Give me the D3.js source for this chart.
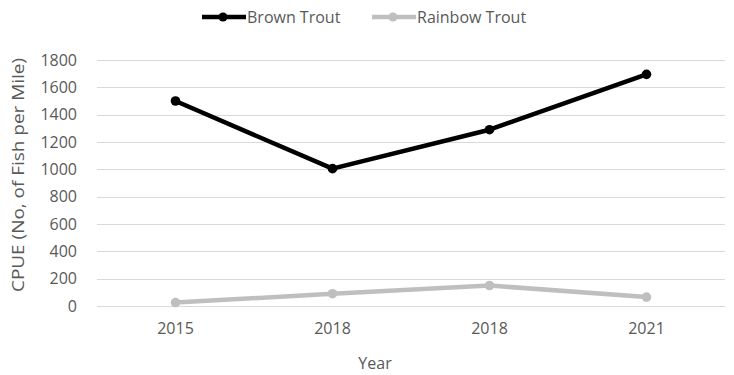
<!DOCTYPE html>
<html>
<head>
<meta charset="utf-8">
<script src="https://cdn.jsdelivr.net/npm/d3@7/dist/d3.min.js"></script>
<style>
  html, body { margin: 0; padding: 0; background: #fff; }
  svg { display: block; font-family: "Open Sans", "Liberation Sans", sans-serif; }
</style>
</head>
<body>
<svg id="chart" width="734" height="375"></svg>
<script>
// Survey years (two surveys in 2018) and catch per unit effort
const years = ["2015", "2018", "2018", "2021"];
const brownTrout = [1500, 1005, 1290, 1695];
const rainbowTrout = [25, 90, 150, 65];
const yTicks = [0, 200, 400, 600, 800, 1000, 1200, 1400, 1600, 1800];

const series = [
  { name: "Brown Trout", values: brownTrout, color: "#000000" },
  { name: "Rainbow Trout", values: rainbowTrout, color: "#bfbfbf" }
];

const svg = d3.select("#chart");
const margin = { left: 97, right: 9, top: 60, bottom: 69 };
const W = 734, H = 375;
const textColor = "#595959";

const x = d3.scaleBand()
  .domain(d3.range(years.length))
  .range([margin.left, W - margin.right]);
const y = d3.scaleLinear()
  .domain([0, 1800])
  .range([H - margin.bottom, margin.top]);

// Horizontal gridlines
svg.append("g")
  .selectAll("line")
  .data(yTicks)
  .join("line")
  .attr("x1", margin.left)
  .attr("x2", W - margin.right)
  .attr("y1", d => Math.round(y(d)) + 0.5)
  .attr("y2", d => Math.round(y(d)) + 0.5)
  .attr("stroke", "#d9d9d9")
  .attr("stroke-width", 1);

// Y axis labels
const yAxis = svg.append("g")
  .attr("transform", `translate(${margin.left - 20},0)`)
  .call(d3.axisLeft(y).tickValues(yTicks).tickFormat(d3.format("d")).tickSize(0).tickPadding(0));
yAxis.select(".domain").remove();
yAxis.selectAll("text")
  .attr("fill", textColor)
  .style("font-size", "16px")
  .style("font-family", "'Open Sans', sans-serif");

// X axis labels
const xAxis = svg.append("g")
  .attr("transform", `translate(0,${H - margin.bottom})`)
  .call(d3.axisBottom(x).tickFormat(i => years[i]).tickSize(0).tickPadding(17));
xAxis.select(".domain").remove();
xAxis.selectAll("text")
  .attr("fill", textColor)
  .style("font-size", "16px")
  .style("font-family", "'Open Sans', sans-serif");

// Axis titles
svg.append("text")
  .attr("x", (margin.left + W - margin.right) / 2 - 36)
  .attr("y", 369)
  .attr("text-anchor", "middle")
  .attr("fill", textColor)
  .style("font-size", "16px")
  .text("Year");

svg.append("text")
  .attr("transform", "translate(24,175) rotate(-90)")
  .attr("text-anchor", "middle")
  .attr("fill", textColor)
  .attr("textLength", 234)
  .attr("lengthAdjust", "spacingAndGlyphs")
  .style("font-size", "16px")
  .text("CPUE (No, of Fish per Mile)");

// Lines and markers
const line = d3.line()
  .x((d, i) => x(i) + x.bandwidth() / 2)
  .y(d => y(d));

series.forEach(s => {
  svg.append("path")
    .datum(s.values)
    .attr("d", line)
    .attr("fill", "none")
    .attr("stroke", s.color)
    .attr("stroke-width", 4.5)
    .attr("stroke-linejoin", "round")
    .attr("stroke-linecap", "round");
  svg.append("g")
    .selectAll("circle")
    .data(s.values)
    .join("circle")
    .attr("cx", (d, i) => x(i) + x.bandwidth() / 2)
    .attr("cy", d => y(d))
    .attr("r", 4.8)
    .attr("fill", s.color);
});

// Legend
const legendItems = [
  { s: series[0], x0: 202 },
  { s: series[1], x0: 372 }
];
const legend = svg.append("g");
legendItems.forEach(item => {
  const g = legend.append("g").attr("transform", `translate(${item.x0},17)`);
  g.append("line")
    .attr("x1", 0).attr("x2", 44)
    .attr("stroke", item.s.color)
    .attr("stroke-width", 4.5);
  g.append("circle")
    .attr("cx", 21).attr("r", 4.5)
    .attr("fill", item.s.color);
  g.append("text")
    .attr("x", 45)
    .attr("dy", "0.35em")
    .attr("fill", textColor)
    .style("font-size", "16px")
    .text(item.s.name);
});
</script>
</body>
</html>
